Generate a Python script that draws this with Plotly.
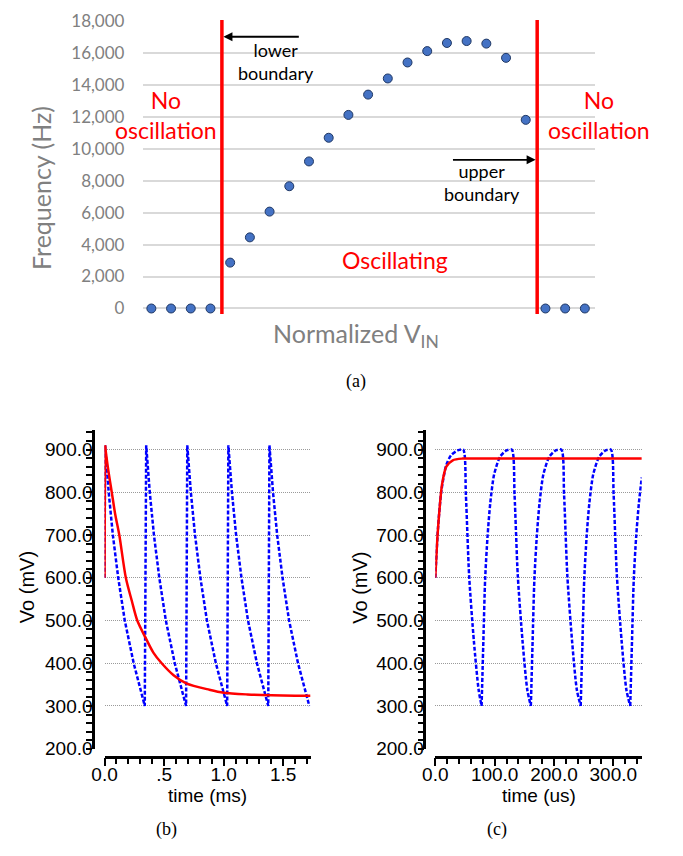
import plotly.graph_objects as go

W, H = 683, 856


def fx(px):
    return px / W


def fy(py):
    return 1 - py / H


# ---------------- (a) data ----------------
vin_index = list(range(23))
freq_hz = [0, 0, 0, 0, 2870, 4450, 6060, 7650, 9200, 10680, 12110, 13380,
           14390, 15390, 16100, 16610, 16730, 16570, 15680, 11800, 0, 0, 0]
freq_ticks = [0, 2000, 4000, 6000, 8000, 10000, 12000, 14000, 16000, 18000]
lower_boundary = 3.58
upper_boundary = 19.58

# ---------------- (b) data (time in ms, Vo in mV) ----------------
t_b_red = [0.0, 0.004, None,
           0.004, 0.03, 0.061, 0.09, 0.124, 0.179, 0.23, 0.275, 0.344,
           0.41, 0.48, 0.58, 0.687, 0.88, 1.0, 1.2, 1.4, 1.6, 1.73]
v_b_red = [600, 910, None,
           910, 855, 800, 748, 700, 600, 545, 500, 460,
           425, 400, 372, 353, 338, 331, 327, 325, 324, 324]

t_b_blue = [0.0,
            0.005, 0.035, 0.07, 0.115, 0.17, 0.245, 0.338,
            0.35, 0.38, 0.415, 0.46, 0.515, 0.59, 0.685,
            0.695, 0.725, 0.76, 0.805, 0.86, 0.935, 1.03,
            1.04, 1.07, 1.105, 1.15, 1.205, 1.28, 1.375,
            1.385, 1.415, 1.45, 1.495, 1.55, 1.625, 1.72]
v_b_blue = [600,
            910, 800, 700, 600, 500, 400, 300,
            910, 800, 700, 600, 500, 400, 300,
            910, 800, 700, 600, 500, 400, 300,
            910, 800, 700, 600, 500, 400, 300,
            910, 800, 700, 600, 500, 400, 300]

# ---------------- (c) data (time in us, Vo in mV) ----------------
t_c_red = [0, 3.6, 7.4, 11.3, 18.5, 29.4, 45.9, 60, 348]
v_c_red = [600, 696, 765, 818, 860, 875, 879, 879, 879]

# each piece runs from one minimum to the next (None = sharp V at the minimum)
t_c_blue = [0, 4.7, 10.2, 18.5, 26.7, 37.6, 47,
            51.5, 57, 65, 73, 78, None,
            78, 81, 84, 88, 92.5, 99, 109, 120, 129,
            133.5, 139, 147, 155, 161, None,
            161, 164, 167, 171, 175.5, 182, 192, 203, 212.5,
            217, 222.5, 230.5, 238.5, 245, None,
            245, 248, 251, 255, 259.5, 266, 276, 287, 296,
            300.5, 306, 314, 322, 328.5, None,
            328.5, 331.5, 334.5, 338.5, 343, 348]
v_c_blue = [600, 719, 803, 864, 887, 898, 900,
            795, 605, 452, 338, 300, None,
            300, 452, 597, 696, 773, 841, 883, 898, 900,
            795, 605, 452, 338, 300, None,
            300, 452, 597, 696, 773, 841, 883, 898, 900,
            795, 605, 452, 338, 300, None,
            300, 452, 597, 696, 773, 841, 883, 898, 900,
            795, 605, 452, 338, 300, None,
            300, 452, 597, 696, 773, 835]

RED = "#ff0000"
BLUE = "#0000ff"
GREY = "#808080"
SANS = "Liberation Sans"
CAL = "Lato"

fig = go.Figure()

# (a) scatter
fig.add_trace(go.Scatter(
    x=vin_index, y=freq_hz, mode="markers", xaxis="x", yaxis="y",
    marker=dict(size=9, color="#4472c4", line=dict(color="#203864", width=1)),
    cliponaxis=False, showlegend=False))

# (b)
fig.add_trace(go.Scatter(
    x=t_b_blue, y=v_b_blue, mode="lines", xaxis="x2", yaxis="y2",
    line=dict(color=BLUE, width=2.5, dash="4px,2px"), showlegend=False))
fig.add_trace(go.Scatter(
    x=t_b_red, y=v_b_red, mode="lines", xaxis="x2", yaxis="y2", connectgaps=False,
    line=dict(color=RED, width=2.5, shape="spline", smoothing=0.8), showlegend=False))

# (c)
fig.add_trace(go.Scatter(
    x=t_c_blue, y=v_c_blue, mode="lines", xaxis="x3", yaxis="y3", connectgaps=False,
    line=dict(color=BLUE, width=2.5, dash="4px,2px", shape="spline", smoothing=0.7),
    showlegend=False))
fig.add_trace(go.Scatter(
    x=t_c_red, y=v_c_red, mode="lines", xaxis="x3", yaxis="y3",
    line=dict(color=RED, width=2.5, shape="spline", smoothing=0.8), showlegend=False))

# ---- axes ----
layout_axes = dict(
    xaxis=dict(domain=[fx(133), fx(593)], range=[-0.4, 22.5], anchor="y",
               showgrid=False, zeroline=False, showline=False,
               showticklabels=False, ticks=""),
    yaxis=dict(domain=[fy(314.2), fy(10.2)], range=[-500, 18050], anchor="x",
               tickvals=freq_ticks, tickformat=",d", showgrid=True,
               gridcolor="#d9d9d9", gridwidth=1.5, zeroline=False,
               showline=False, ticks="", ticklabelstandoff=18,
               ticklabeloverflow="allow",
               tickfont=dict(family=CAL, size=17, color=GREY)),
)

minor_y = dict(tickmode="linear", tick0=200, dtick=20, ticks="outside", ticklen=6,
               tickwidth=2, tickcolor="black", showgrid=False)
bottom_y = dict(range=[200, 946], domain=[fy(757.3), fy(430.5)],
                tickmode="linear", tick0=200, dtick=100, tickformat=".1f",
                showgrid=True, gridcolor="#9a9a9a", griddash="1px,1px", gridwidth=1,
                zeroline=False, showline=True, linecolor="black", linewidth=2.5,
                ticks="outside", ticklen=6, tickwidth=2, tickcolor="black",
                ticklabelstandoff=-10, ticklabeloverflow="allow",
                tickfont=dict(family=SANS, size=19, color="black"),
                minor=minor_y, anchor="free")

layout_axes["yaxis2"] = dict(bottom_y, position=fx(81.7))
layout_axes["yaxis3"] = dict(bottom_y, position=fx(419.3))

common_x = dict(anchor="free", position=fy(765.5), tickformat=".1f",
                showgrid=False, zeroline=False, showline=True, linecolor="black",
                linewidth=2.5, ticks="outside", ticklen=8, tickwidth=2,
                tickcolor="black", ticklabelstandoff=-8, ticklabeloverflow="allow",
                tickfont=dict(family=SANS, size=19, color="black"))

layout_axes["xaxis2"] = dict(
    common_x, domain=[fx(93.3), fx(303.3)], range=[0, 1.73],
    tickmode="linear", tick0=0, dtick=0.5, labelalias={"0.5": ".5"},
    minor=dict(tickmode="linear", tick0=0, dtick=0.1, ticks="outside", ticklen=6,
               tickwidth=2, tickcolor="black", showgrid=False))
layout_axes["xaxis3"] = dict(
    common_x, domain=[fx(430.5), fx(641)], range=[0, 348],
    tickmode="linear", tick0=0, dtick=100,
    minor=dict(tickmode="linear", tick0=0, dtick=20, ticks="outside", ticklen=6,
               tickwidth=2, tickcolor="black", showgrid=False))

# ---- shapes: boundary lines ----
shapes = [
    dict(type="line", xref="x", yref="y", x0=lower_boundary, x1=lower_boundary,
         y0=-350, y1=18050, line=dict(color=RED, width=3.5)),
    dict(type="line", xref="x", yref="y", x0=upper_boundary, x1=upper_boundary,
         y0=-350, y1=18050, line=dict(color=RED, width=3.5)),
]


def txt(text, x, y, size, color, family=CAL, angle=0):
    return dict(text=text, x=fx(x), y=fy(y), xref="paper", yref="paper",
                showarrow=False, xanchor="center", yanchor="middle",
                textangle=angle, font=dict(family=family, size=size, color=color))


annotations = [
    # arrows
    dict(x=lower_boundary + 0.08, y=17000, ax=7.56, ay=17000, xref="x", yref="y",
         axref="x", ayref="y", showarrow=True, arrowhead=2, arrowsize=1,
         arrowwidth=1.8, arrowcolor="black", text=""),
    dict(x=upper_boundary - 0.08, y=9300, ax=15.23, ay=9300, xref="x", yref="y",
         axref="x", ayref="y", showarrow=True, arrowhead=2, arrowsize=1,
         arrowwidth=1.8, arrowcolor="black", text=""),
    txt("lower<br>boundary", 268, 53, 18, "black"),
    txt("upper<br>boundary", 478, 177, 18, "black"),
    txt("No<br>oscillation", 156, 108, 23, RED),
    txt("No<br>oscillation", 597, 108, 23, RED),
    txt("Oscillating", 389, 256, 23, RED),
    txt("Frequency (Hz)", 28, 182, 25, GREY, angle=-90),
    txt("Normalized V<sub>IN</sub>", 350, 333, 25, GREY),
    txt("(a)", 350, 381, 18, "black", family="Liberation Serif"),
    # (b)
    txt("Vo (mV)", 15, 592, 20, "black", family=SANS, angle=-90),
    txt("time (ms)", 198.3, 805, 19, "black", family=SANS),
    txt("(b)", 156, 840, 18, "black", family="Liberation Serif"),
    # (c)
    txt("Vo (mV)", 354, 592, 20, "black", family=SANS, angle=-90),
    txt("time (us)", 535.7, 805, 19, "black", family=SANS),
    txt("(c)", 493, 840, 18, "black", family="Liberation Serif"),
]

fig.update_layout(
    width=W, height=H, margin=dict(l=0, r=0, t=0, b=0),
    paper_bgcolor="white", plot_bgcolor="white", showlegend=False,
    shapes=shapes, annotations=annotations, **layout_axes)

fig.write_html("out.html")
